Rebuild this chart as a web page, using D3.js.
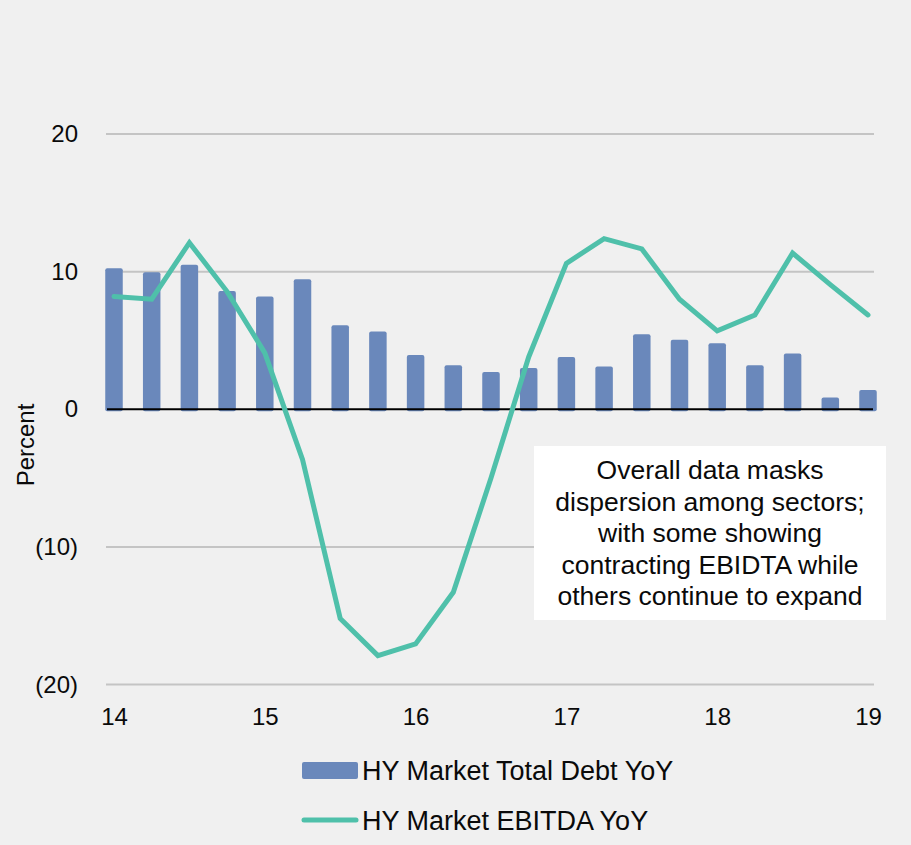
<!DOCTYPE html>
<html><head><meta charset="utf-8">
<script src="https://cdn.jsdelivr.net/npm/d3@7"></script>
<style>
html,body{margin:0;padding:0;background:#f0f0f0;}
svg{display:block;font-family:"Liberation Sans",Arial,Helvetica,sans-serif;}
</style></head>
<body>
<svg id="chart" width="911" height="845"></svg>
<script>
const quarters = [14, 14.25, 14.5, 14.75, 15, 15.25, 15.5, 15.75, 16, 16.25, 16.5, 16.75, 17, 17.25, 17.5, 17.75, 18, 18.25, 18.5, 18.75, 19];
const debtYoY = [10.25, 9.95, 10.5, 8.6, 8.2, 9.45, 6.1, 5.65, 3.95, 3.2, 2.7, 3.0, 3.8, 3.1, 5.45, 5.05, 4.8, 3.2, 4.05, 0.85, 1.4];
const ebitdaYoY = [8.2, 8.0, 12.1, 8.55, 4.1, -3.65, -15.2, -17.9, -17.05, -13.3, -5.0, 3.8, 10.6, 12.4, 11.65, 8.0, 5.7, 6.85, 11.35, 9.05, 6.85];
const xTicks = [14, 15, 16, 17, 18, 19];
const yTicks = [20, 10, 0, -10, -20];
const seriesNames = ["HY Market Total Debt YoY", "HY Market EBITDA YoY"];
const yLabel = "Percent";
const noteLines = ["Overall data masks", "dispersion among sectors;", "with some showing", "contracting EBIDTA while", "others continue to expand"];

const barColor = "#6a88bb", lineColor = "#4fc0aa", textColor = "#0a0a0a";
const svg = d3.select("#chart");
const x = d3.scaleLinear().domain([14, 19]).range([114, 868]);
const y = d3.scaleLinear().domain([-20, 20]).range([684.5, 134]);
const plotL = 106, plotR = 874;

// gridlines
svg.append("g").selectAll("line").data(yTicks.filter(d => d !== 0)).join("line")
  .attr("x1", plotL).attr("x2", plotR)
  .attr("y1", d => y(d)).attr("y2", d => y(d))
  .attr("stroke", "#c4c4c4").attr("stroke-width", 2);

// y tick labels
const yAxis = d3.axisLeft(y).tickValues(yTicks).tickSize(0).tickPadding(0)
  .tickFormat(d => d < 0 ? `(${Math.abs(d)})` : `${d}`);
const ya = svg.append("g").attr("transform", "translate(78,0)").call(yAxis);
ya.select(".domain").remove();
ya.selectAll("text").attr("font-size", 24).attr("fill", textColor)
  .attr("font-family", "Liberation Sans, Arial, sans-serif");

// y label
svg.append("text").attr("transform", "translate(34,445) rotate(-90)")
  .attr("text-anchor", "middle").attr("font-size", 24).attr("fill", textColor).text(yLabel);

// bars
const bw = 17.5;
svg.append("g").selectAll("rect").data(quarters).join("rect")
  .attr("x", (d) => x(d) - bw / 2)
  .attr("width", bw)
  .attr("y", (d, i) => y(Math.max(0, debtYoY[i])))
  .attr("height", (d, i) => Math.abs(y(debtYoY[i]) - y(0)) + 2)
  .attr("rx", 2).attr("fill", barColor);

// zero line
svg.append("line").attr("x1", plotL + 1).attr("x2", plotR - 1)
  .attr("y1", y(0)).attr("y2", y(0)).attr("stroke", "#000").attr("stroke-width", 2);

// x axis labels
const xAxis = d3.axisBottom(x).tickValues(xTicks).tickSize(0).tickPadding(0).tickFormat(d3.format("d"));
const xa = svg.append("g").attr("transform", "translate(0,708)").call(xAxis);
xa.select(".domain").remove();
xa.selectAll("text").attr("font-size", 24).attr("fill", textColor).attr("dy", "0.71em")
  .attr("font-family", "Liberation Sans, Arial, sans-serif");

// line
const line = d3.line().x((d, i) => x(quarters[i])).y(d => y(d));
svg.append("path").datum(ebitdaYoY).attr("d", line)
  .attr("fill", "none").attr("stroke", lineColor).attr("stroke-width", 5)
  .attr("stroke-linejoin", "miter").attr("stroke-linecap", "round");

// annotation box
svg.append("rect").attr("x", 534).attr("y", 446).attr("width", 352).attr("height", 174).attr("fill", "#fff");
svg.append("g").selectAll("text").data(noteLines).join("text")
  .attr("x", 710).attr("y", (d, i) => 479 + i * 31.5)
  .attr("text-anchor", "middle").attr("font-size", 26.5).attr("fill", textColor).text(d => d);

// legend
const lg = svg.append("g");
lg.append("rect").attr("x", 302).attr("y", 762).attr("width", 56).attr("height", 17).attr("rx", 2).attr("fill", barColor);
lg.append("text").attr("x", 362).attr("y", 780).attr("font-size", 27).attr("fill", textColor).text(seriesNames[0]);
lg.append("line").attr("x1", 304).attr("x2", 356).attr("y1", 820).attr("y2", 820)
  .attr("stroke", lineColor).attr("stroke-width", 5).attr("stroke-linecap", "round");
lg.append("text").attr("x", 362).attr("y", 830).attr("font-size", 27).attr("fill", textColor).text(seriesNames[1]);
</script>
</body></html>
